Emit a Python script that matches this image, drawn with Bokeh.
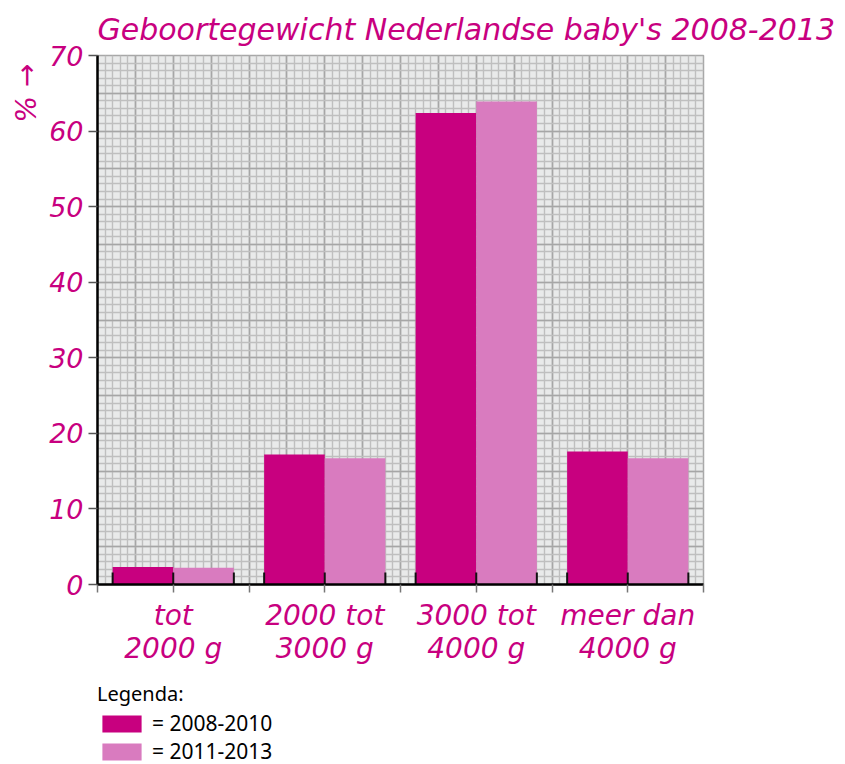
from bokeh.plotting import figure
from bokeh.models import (Range1d, FixedTicker, SingleIntervalTicker, Legend, LegendItem, Title)
from bokeh.layouts import column
from bokeh.embed import file_html
from bokeh.resources import INLINE

# ---- data ----
categories = ["tot\n2000 g", "2000 tot\n3000 g", "3000 tot\n4000 g", "meer dan\n4000 g"]
pct_2008_2010 = [2.3, 17.2, 62.4, 17.6]
pct_2011_2013 = [2.2, 16.7, 63.9, 16.7]
series_names = ["= 2008-2010", "= 2011-2013"]
y_ticks = [0, 10, 20, 30, 40, 50, 60, 70]
title_text = "Geboortegewicht Nederlandse baby's 2008-2013"
y_label_text = "% \u2192"
legend_title = "Legenda:"

MAGENTA = "#c8007f"
DARK = "#c8007f"
LIGHT = "#d97bbf"

CAT_W = 20
BAR_W = 8
n = len(categories)
centers = [CAT_W * i + CAT_W / 2 for i in range(n)]
x_dark = [c - BAR_W / 2 for c in centers]
x_light = [c + BAR_W / 2 for c in centers]

# ---------------- main chart ----------------
p = figure(frame_width=606, frame_height=529, output_backend="svg", toolbar_location=None,
           x_range=Range1d(0, CAT_W * n), y_range=Range1d(0, 70),
           min_border_left=97, min_border_right=142, min_border_top=55, min_border_bottom=96)

p.background_fill_color = "#e9eaea"
p.border_fill_color = "white"
p.outline_line_color = "#a8a8a8"
p.outline_line_width = 1.5

for g in (p.xgrid, p.ygrid):
    g.ticker = SingleIntervalTicker(interval=5, num_minor_ticks=5)
    g.grid_line_color = "#a6a6a6"
    g.grid_line_width = 1.6
    g.minor_grid_line_color = "#bfbfbf"
    g.minor_grid_line_width = 1.4

p.title.text = title_text
p.title.text_color = MAGENTA
p.title.text_font = "DejaVu Sans"
p.title.text_font_style = "italic"
p.title.text_font_size = "30px"
p.title.text_line_height = 0.9
p.title.align = "left"
p.title.standoff = 18

r1 = p.vbar(x=x_dark, top=pct_2008_2010, width=BAR_W, fill_color=DARK, line_color=None)
r2 = p.vbar(x=x_light, top=pct_2011_2013, width=BAR_W, fill_color=LIGHT, line_color=None)

# small black marks at the bar edges
edges = sorted(set([x - BAR_W / 2 for x in x_dark] + [x + BAR_W / 2 for x in x_dark] +
                   [x + BAR_W / 2 for x in x_light]))
p.segment(x0=edges, y0=[0] * len(edges), x1=edges, y1=[1.6] * len(edges),
          line_color="#111111", line_width=2)

ya = p.yaxis[0]
ya.ticker = FixedTicker(ticks=y_ticks)
ya.minor_tick_line_color = None
ya.major_tick_in = 0
ya.major_tick_out = 9
ya.major_tick_line_color = "#555555"
ya.major_tick_line_width = 1.5
ya.axis_line_color = "black"
ya.axis_line_width = 2.5
ya.major_label_text_color = MAGENTA
ya.major_label_text_font = "DejaVu Sans"
ya.major_label_text_font_style = "italic"
ya.major_label_text_font_size = "27px"
ya.major_label_standoff = 5

xa = p.xaxis[0]
x_tick_pos = [CAT_W / 2 * k for k in range(2 * n + 1)]
xa.ticker = FixedTicker(ticks=x_tick_pos)
overrides = {t: "" for t in x_tick_pos}
for c, lab in zip(centers, categories):
    overrides[c] = lab
xa.major_label_overrides = overrides
xa.minor_tick_line_color = None
xa.major_tick_in = 0
xa.major_tick_out = 8
xa.major_tick_line_color = "#777777"
xa.major_tick_line_width = 1.5
xa.axis_line_color = "black"
xa.axis_line_width = 2.5
xa.major_label_text_color = MAGENTA
xa.major_label_text_font = "DejaVu Sans"
xa.major_label_text_font_style = "italic"
xa.major_label_text_font_size = "28px"
xa.major_label_text_line_height = 1.0
xa.major_label_standoff = 6

ylab = Title(text=y_label_text, align="right", offset=8, standoff=7, text_color=MAGENTA,
             text_font="DejaVu Sans", text_font_style="italic", text_font_size="28px")
p.add_layout(ylab, "left")

# ---------------- legend strip below ----------------
q = figure(width=845, height=84, output_backend="svg", toolbar_location=None,
           x_axis_location=None, y_axis_location=None,
           min_border_left=96, min_border_right=0, min_border_top=0, min_border_bottom=0)
q.grid.visible = False
q.outline_line_color = None
q.background_fill_color = "white"
l1 = q.vbar(x=x_dark, top=pct_2008_2010, width=BAR_W, fill_color=DARK, line_color=None, visible=False)
l2 = q.vbar(x=x_light, top=pct_2011_2013, width=BAR_W, fill_color=LIGHT, line_color=None, visible=False)

legend = Legend(items=[LegendItem(label=series_names[0], renderers=[l1]),
                       LegendItem(label=series_names[1], renderers=[l2])],
                title=legend_title, location="top_left", orientation="vertical",
                glyph_width=49, glyph_height=21, label_standoff=6, label_height=17,
                spacing=0, padding=0, margin=0,
                border_line_color=None, background_fill_alpha=0,
                inactive_fill_alpha=0, click_policy="none")
legend.title_text_font = "Noto Sans"
legend.title_text_font_size = "20px"
legend.title_text_font_style = "normal"
legend.title_text_color = "black"
legend.title_standoff = 2
legend.label_text_font = "Noto Sans"
legend.label_text_font_size = "21px"
legend.label_text_color = "black"
q.add_layout(legend)

layout = column(p, q, spacing=0)
open("out.html", "w").write(file_html(layout, INLINE))
